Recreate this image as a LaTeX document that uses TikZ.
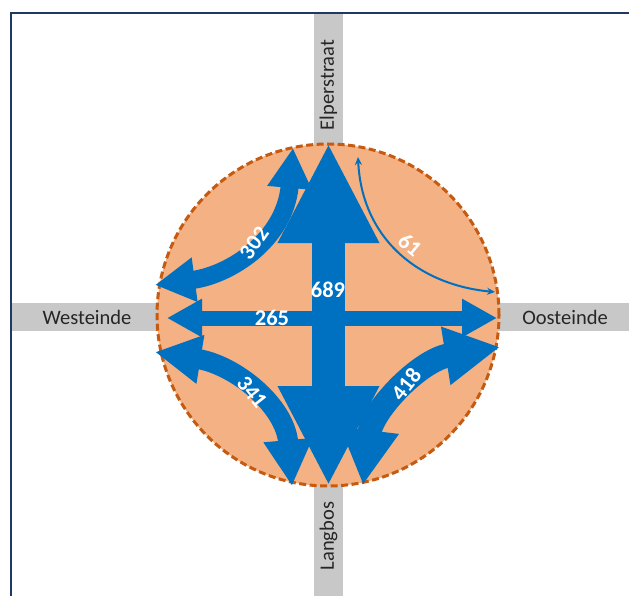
\documentclass[tikz,border=0pt]{standalone}
\usepackage{fontspec}
\setmainfont{Carlito}
\usetikzlibrary{arrows.meta}
\definecolor{roadgray}{RGB}{200,200,200}
\definecolor{rbfill}{RGB}{244,177,131}
\definecolor{rbedge}{RGB}{197,90,17}
\definecolor{flowblue}{RGB}{0,112,192}
\definecolor{framenavy}{RGB}{31,56,100}
\definecolor{txtgray}{RGB}{38,38,38}
\begin{document}
\begin{tikzpicture}[x=1pt,y=-1pt,
  road/.style={fill=roadgray,draw=none},
  roadlabel/.style={text=txtgray,font=\fontsize{20.5}{24}\selectfont,inner sep=0pt},
  flow/.style={draw=flowblue,line cap=butt},
  count/.style={text=white,font=\fontsize{22.5}{26}\selectfont\bfseries,inner sep=0pt}]
\useasboundingbox (0,0) rectangle (629,596);
\fill[white] (0,0) rectangle (629,596);
% roads
\fill[road] (314,13) rectangle (343,596);
\fill[road] (11,303) rectangle (629,331);
% frame
\draw[framenavy,line width=2.5pt] (11,596) -- (11,13) -- (629,13);
% roundabout
\node[circle,inner sep=0pt,minimum size=342pt,fill=rbfill,draw=rbedge,line width=3pt,dash pattern=on 7pt off 3.5pt] (rb) at (328,315) {};
% road labels
\node[roadlabel,rotate=90] (elp) at (328.5,85) {Elperstraat};
\node[roadlabel,rotate=90] (lang) at (328.5,536) {Langbos};
\node[roadlabel] (west) at (87,317) {Westeinde};
\node[roadlabel] (oost) at (565,317) {Oosteinde};
% arrow end points
\coordinate (wtip) at (167,318);
\coordinate (etip) at (497,318);
\coordinate (ntip) at (328.5,143);
\coordinate (stip) at (328.5,486);
\coordinate (a302n) at (293,148);
\coordinate (a302w) at (155,285);
\coordinate (a341w) at (155,352);
\coordinate (a341s) at (292,486);
\coordinate (a418s) at (363,485);
\coordinate (a418e) at (500,347);
\coordinate (a61n) at (358,157);
\coordinate (a61e) at (495,292);
% flows
\draw[flow,line width=15pt,{Triangle[width=36pt,length=35pt]}-{Triangle[width=36pt,length=35pt]}] (wtip) -- (etip);
\draw[flow,line width=33pt,{Triangle[width=94pt,length=100pt]}-{Triangle[width=94pt,length=100pt]}] (ntip) -- (stip);
\draw[flow,line width=18pt,{Triangle[width=42pt,length=40pt]}-{Triangle[width=42pt,length=40pt]}] (a302w) .. controls (230,275) and (285,240) .. (a302n);
\draw[flow,line width=20pt,{Triangle[width=46pt,length=46pt]}-{Triangle[width=46pt,length=46pt]}] (a341w) .. controls (235,365) and (285,405) .. (a341s);
\draw[flow,line width=24pt,{Triangle[width=55pt,length=55pt]}-{Triangle[width=55pt,length=55pt]}] (a418s) .. controls (372,410) and (420,360) .. (a418e);
\draw[flow,line width=2pt,{Stealth[length=8pt,width=7pt]}-{Stealth[length=8pt,width=7pt]}] (a61n) .. controls (362,240) and (420,285) .. (a61e);
% counts
\node[count] (c689) at (328,290) {689};
\node[count] (c265) at (272,318) {265};
\node[count,rotate=55] (c302) at (254,243) {302};
\node[count,rotate=-52] (c341) at (252,392) {341};
\node[count,rotate=52] (c418) at (406,384) {418};
\node[count,rotate=-40] (c61) at (410,245) {61};
\end{tikzpicture}
\end{document}
